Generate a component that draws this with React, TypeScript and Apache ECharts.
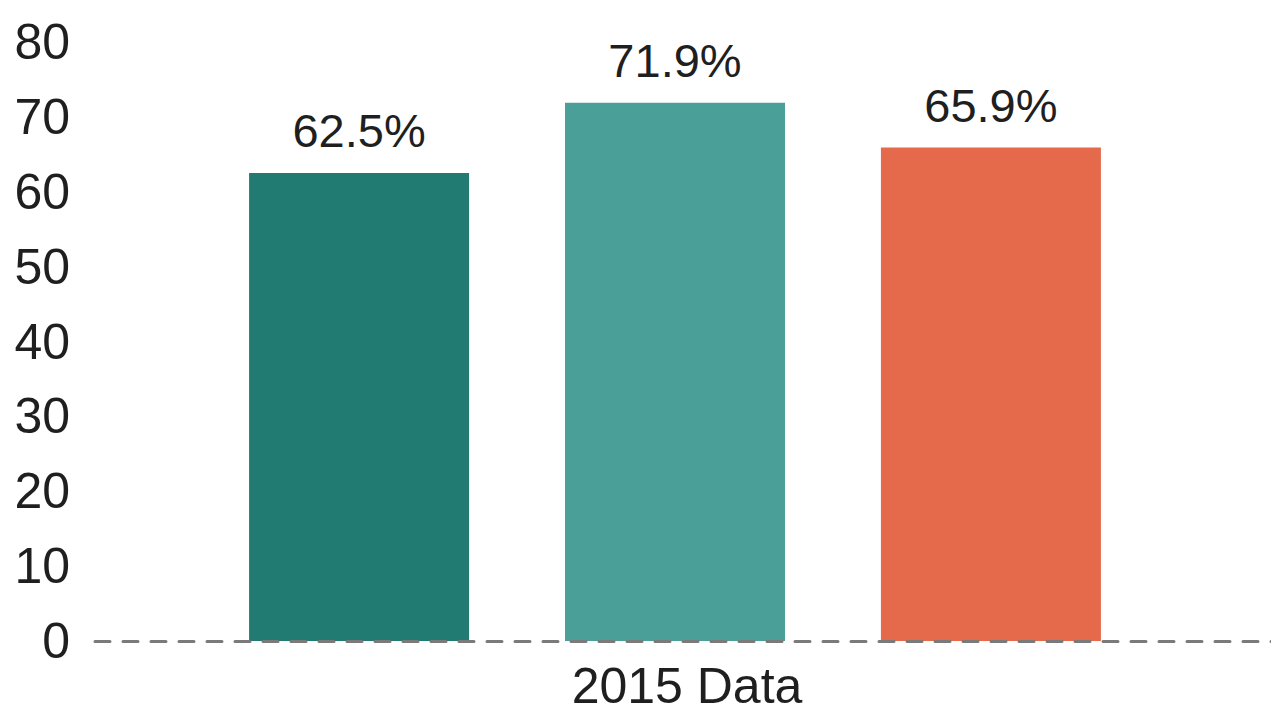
import React, { useEffect, useRef } from "react";
import * as echarts from "echarts";

const categories = ["2015 Data"];
const seriesNames = ["Group A", "Group B", "Group C"];
const seriesValues = [[62.5], [71.9], [65.9]];
const seriesColors = ["#227b72", "#4aa098", "#e5694b"];
const yMin = 0;
const yMax = 80;
const yInterval = 10;

const FONT = "'Liberation Sans', Arial, Helvetica, sans-serif";

export default function App() {
  const ref = useRef<HTMLDivElement>(null);
  useEffect(() => {
    if (!ref.current) return;
    const chart = echarts.init(ref.current, undefined, { renderer: "svg" });
    chart.setOption({
      animation: false,
      backgroundColor: "#ffffff",
      grid: [
        { left: 95, right: 0, top: 42, bottom: 78 },
        { left: 71, right: 0, top: 42, bottom: 78 },
      ],
      xAxis: [
        {
          type: "category",
          gridIndex: 0,
          data: categories,
          z: 5,
          axisLine: {
            show: true,
            lineStyle: { color: "#7a7a7a", width: 3, type: [15, 13] },
          },
          axisTick: { show: false },
          axisLabel: {
            color: "#1f1f1f",
            fontSize: 50,
            fontFamily: FONT,
            margin: 20,
          },
        },
        {
          type: "category",
          gridIndex: 1,
          data: categories,
          show: false,
        },
      ],
      yAxis: [
        {
          type: "value",
          gridIndex: 0,
          min: yMin,
          max: yMax,
          interval: yInterval,
          axisLine: { show: false },
          axisTick: { show: false },
          splitLine: { show: false },
          axisLabel: {
            color: "#1f1f1f",
            fontSize: 50,
            fontFamily: FONT,
            margin: 25,
            padding: [0, 0, 6, 0],
          },
        },
        {
          type: "value",
          gridIndex: 1,
          min: yMin,
          max: yMax,
          interval: yInterval,
          show: false,
          splitLine: { show: false },
        },
      ],
      series: seriesNames.map((name, i) => ({
        type: "bar",
        name,
        xAxisIndex: 1,
        yAxisIndex: 1,
        data: seriesValues[i],
        barWidth: 220,
        barGap: "43.6%",
        itemStyle: { color: seriesColors[i] },
        label: {
          show: true,
          position: "top",
          distance: 19,
          formatter: "{c}%",
          color: "#1f1f1f",
          fontSize: 47,
          fontFamily: FONT,
        },
      })),
    });
    return () => chart.dispose();
  }, []);
  return <div ref={ref} style={{ width: 1279, height: 719, margin: -8 }} />;
}
